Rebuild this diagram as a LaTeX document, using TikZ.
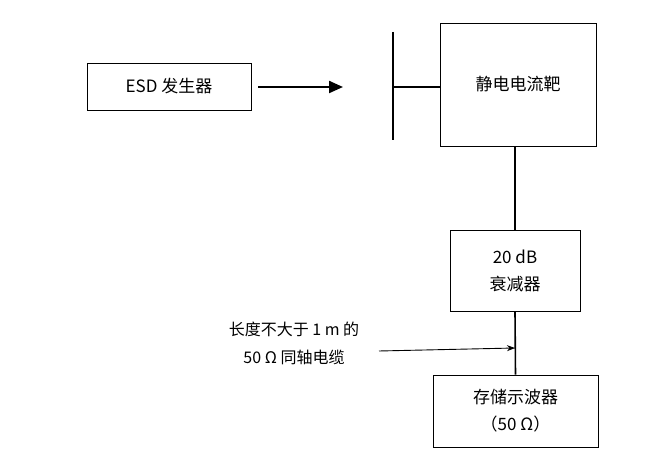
\documentclass[tikz,border=0pt]{standalone}
\usepackage{fontspec}
\setmainfont{Liberation Serif}
\newfontfamily\cjk{Noto Sans CJK SC}
\usetikzlibrary{arrows.meta}
\begin{document}
\begin{tikzpicture}[x=1pt,y=-1pt,
  box/.style={draw,line width=0.9pt,inner sep=0pt,align=center,font=\cjk\fontsize{17}{27}\selectfont},
  ln/.style={line width=1.6pt}]
\useasboundingbox (0,0) rectangle (657,465);
\node[box,minimum width=164pt,minimum height=47pt] (esd) at (169,86.5) {ESD 发生器};
\node[box,minimum width=156pt,minimum height=123pt] (tgt) at (518,84.5) {静电电流靶};
\node[box,minimum width=130pt,minimum height=81pt] (att) at (515,270.5) {20 dB\\衰减器};
\node[box,minimum width=165pt,minimum height=72pt] (osc) at (515.5,411) {存储示波器\\（50 Ω）};
\coordinate (bt) at (393,32);
\coordinate (bb) at (393,140);
\coordinate (bm) at (393,87);
\coordinate (ah) at (343,87);
\draw[ln] (bt) -- (bb);
\draw[ln] (bm) -- (tgt.west |- bm);
\draw[line width=2.2pt,-{Triangle[length=14pt,width=12pt]}] (esd.east |- ah) ++(7,0) -- (ah);
\draw[ln] (tgt.south -| att.north) -- (att.north);
\draw[ln] (att.south) -- (osc.north);
\node[font=\cjk\fontsize{16}{28}\selectfont,align=center] (lab) at (294,343) {长度不大于 1 m 的\\50 Ω 同轴电缆};
\coordinate (cp) at (515,348);
\draw[line width=0.9pt,-{Stealth[length=8pt,width=6pt]}] (379,351) -- (cp);
\end{tikzpicture}
\end{document}
